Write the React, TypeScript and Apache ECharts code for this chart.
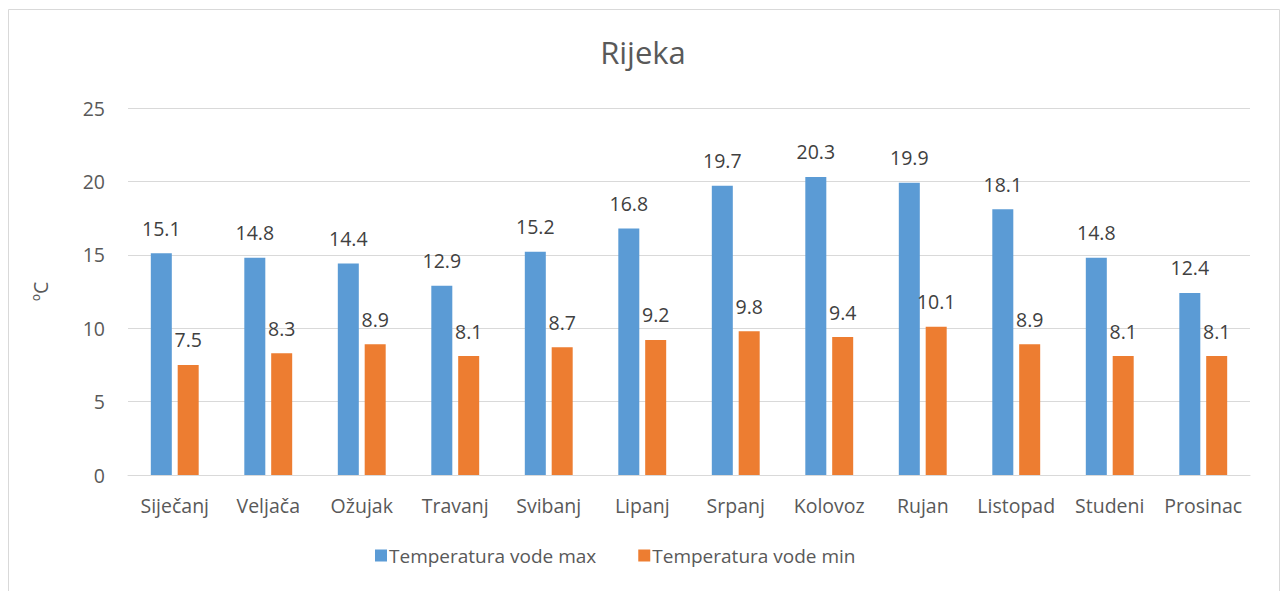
import React, { useEffect, useRef } from "react";
import * as echarts from "echarts";

const categories = ["Siječanj", "Veljača", "Ožujak", "Travanj", "Svibanj", "Lipanj", "Srpanj", "Kolovoz", "Rujan", "Listopad", "Studeni", "Prosinac"];
const maxValues = [15.1, 14.8, 14.4, 12.9, 15.2, 16.8, 19.7, 20.3, 19.9, 18.1, 14.8, 12.4];
const minValues = [7.5, 8.3, 8.9, 8.1, 8.7, 9.2, 9.8, 9.4, 10.1, 8.9, 8.1, 8.1];
const seriesNames = ["Temperatura vode max", "Temperatura vode min"];

const FONT = "'Open Sans', 'Noto Sans', sans-serif";
const TEXT = "#595959";

export default function App() {
  const ref = useRef<HTMLDivElement>(null);
  useEffect(() => {
    document.body.style.margin = "0";
    const chart = echarts.init(ref.current!, null, { renderer: "svg" });
    const label = {
      show: true,
      position: "top",
      distance: 15,
      fontSize: 19.5,
      color: "#404040",
      fontFamily: FONT,
      formatter: (p: any) => p.value.toFixed(1),
    };
    chart.setOption({
      animation: false,
      backgroundColor: "#ffffff",
      textStyle: { fontFamily: FONT },
      title: {
        text: "Rijeka",
        left: "center",
        top: 31,
        textStyle: { fontSize: 31, fontWeight: "normal", color: TEXT, fontFamily: FONT },
      },
      graphic: [
        {
          type: "rect",
          shape: { x: 8.5, y: 9.5, width: 1271, height: 620 },
          style: { fill: "none", stroke: "#D9D9D9", lineWidth: 1 },
          silent: true,
        },
      ],
      legend: {
        bottom: 21,
        left: 370,
        itemWidth: 12,
        itemHeight: 12,
        itemGap: 42,
        icon: "rect",
        textStyle: { fontSize: 19, color: TEXT, fontFamily: FONT, padding: [0, 0, 0, -3] },
        data: seriesNames,
      },
      grid: { left: 128, right: 36, top: 108, bottom: 116 },
      xAxis: {
        type: "category",
        data: categories,
        axisLine: { lineStyle: { color: "#D9D9D9", width: 1 } },
        axisTick: { show: false },
        axisLabel: { fontSize: 19.5, color: TEXT, margin: 20, fontFamily: FONT, interval: 0 },
      },
      yAxis: {
        type: "value",
        min: 0,
        max: 25,
        interval: 5,
        name: "ºC",
        nameLocation: "middle",
        nameRotate: 90,
        nameGap: 78,
        nameTextStyle: { fontSize: 19.5, color: TEXT, fontFamily: FONT },
        axisLine: { show: false },
        axisTick: { show: false },
        splitLine: { lineStyle: { color: "#D9D9D9", width: 1 } },
        axisLabel: { fontSize: 19.5, color: TEXT, margin: 23, fontFamily: FONT },
      },
      series: [
        {
          name: seriesNames[0],
          type: "bar",
          data: maxValues,
          barWidth: 21,
          barGap: "28%",
          itemStyle: { color: "#5B9BD5" },
          label,
        },
        {
          name: seriesNames[1],
          type: "bar",
          data: minValues,
          barWidth: 21,
          barGap: "28%",
          itemStyle: { color: "#ED7D31" },
          label,
        },
      ],
    });
    return () => chart.dispose();
  }, []);
  return <div ref={ref} style={{ width: 1286, height: 591 }} />;
}
